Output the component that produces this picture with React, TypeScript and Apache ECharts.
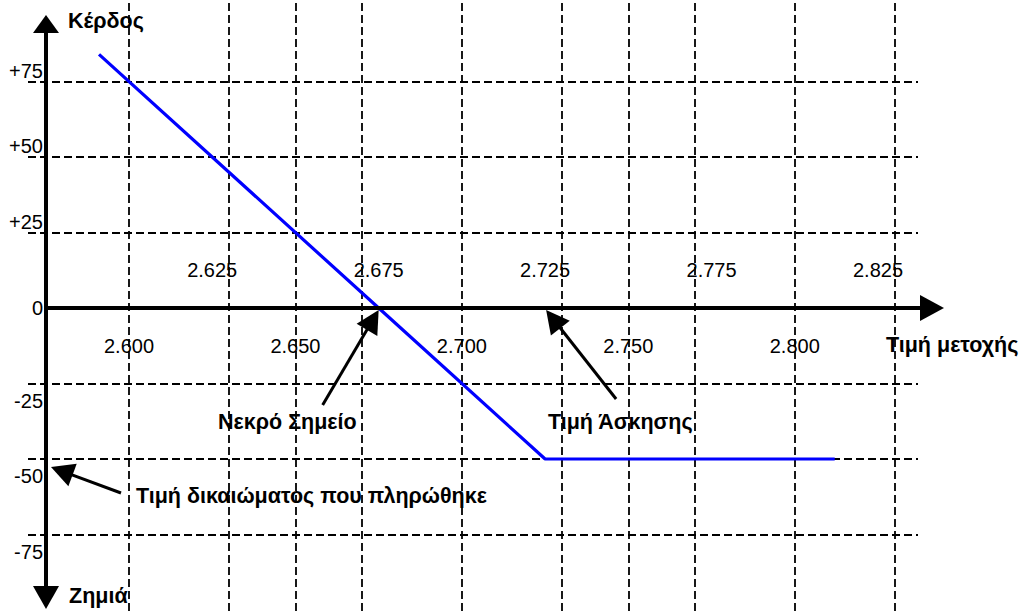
import React, { useEffect, useRef } from "react";
import * as echarts from "echarts";

// ---- data ----
const priceTicks = [2.6, 2.625, 2.65, 2.675, 2.7, 2.725, 2.75, 2.775, 2.8, 2.825];
const priceTickLabels = ["2.600", "2.625", "2.650", "2.675", "2.700", "2.725", "2.750", "2.775", "2.800", "2.825"];
const profitTicks = [75, 50, 25, 0, -25, -50, -75];
const profitTickLabels = ["+75", "+50", "+25", "0", "-25", "-50", "-75"];
const payoffPrices = [2.591, 2.675, 2.725, 2.812];
const payoffProfits = [84, 0, -50, -50];
const breakEvenPrice = 2.675;
const strikePrice = 2.725;
const premiumPaid = -50;
const yTitleTop = "Κέρδος";
const yTitleBottom = "Ζημιά";
const xTitle = "Τιμή μετοχής";
const breakEvenLabel = "Νεκρό Σημείο";
const strikeLabel = "Τιμή Άσκησης";
const premiumLabel = "Τιμή δικαιώματος που πληρώθηκε";

// ---- layout ----
const W = 1020;
const H = 611;
const X_MIN = 2.56125;
const X_MAX = 2.86766;
const Y_MIN = -100.33;
const Y_MAX = 101.99;
const PX_PER_X = W / (X_MAX - X_MIN);
const GRID_H_START_PX = 28;
const GRID_H_END_PX = 918;
const AXIS_X_PX = 46;
const FONT = "'Liberation Sans', Arial, Helvetica, sans-serif";
const FS = 20;
const FSB = 21.5;

function arrow(tail: number[], tip: number[], lw = 3, L = 23, hw = 12) {
  const dx = tip[0] - tail[0];
  const dy = tip[1] - tail[1];
  const len = Math.sqrt(dx * dx + dy * dy);
  const ux = dx / len;
  const uy = dy / len;
  const bx = tip[0] - ux * L;
  const by = tip[1] - uy * L;
  const nx = -uy;
  const ny = ux;
  return [
    {
      type: "line",
      shape: { x1: tail[0], y1: tail[1], x2: bx + ux * 2, y2: by + uy * 2 },
      style: { stroke: "#000", lineWidth: lw },
      z: 20,
    },
    {
      type: "polygon",
      shape: { points: [tip, [bx + nx * hw, by + ny * hw], [bx - nx * hw, by - ny * hw]] },
      style: { fill: "#000" },
      z: 20,
    },
  ];
}

export default function App() {
  const ref = useRef<HTMLDivElement>(null);
  useEffect(() => {
    if (!ref.current) return;
    const chart = echarts.init(ref.current, undefined, { renderer: "svg" });
    const xs = X_MIN + GRID_H_START_PX / PX_PER_X;
    const xe = X_MIN + GRID_H_END_PX / PX_PER_X;
    const gridData: any[] = [];
    priceTicks.forEach((v) => gridData.push({ xAxis: v }));
    profitTicks
      .filter((v) => v !== 0)
      .forEach((v) => gridData.push([{ coord: [xs, v] }, { coord: [xe, v] }]));
    const payoff = payoffPrices.map((p, i) => [p, payoffProfits[i]]);

    chart.setOption({
      animation: false,
      grid: { left: 0, right: 0, top: 0, bottom: 0 },
      xAxis: {
        type: "value",
        min: X_MIN,
        max: X_MAX,
        show: false,
        splitLine: { show: false },
      },
      yAxis: {
        type: "value",
        min: Y_MIN,
        max: Y_MAX,
        show: false,
        splitLine: { show: false },
      },
      series: [
        {
          type: "line",
          name: "grid",
          data: payoff,
          symbol: "none",
          lineStyle: { opacity: 0 },
          silent: true,
          z: 1,
          markLine: {
            silent: true,
            symbol: ["none", "none"],
            label: { show: false },
            lineStyle: { color: "#000", width: 1.8, type: [8, 4] },
            data: gridData,
          },
        },
        {
          type: "line",
          name: "payoff",
          data: payoff,
          symbol: "none",
          lineStyle: { color: "#0000ff", width: 3.2 },
          z: 10,
        },
      ],
    });

    const px = (x: number, y: number) => chart.convertToPixel({ gridIndex: 0 }, [x, y]) as number[];
    const y0 = px(X_MIN, 0)[1];
    const g: any[] = [];

    // axes with arrows
    g.push({ type: "line", shape: { x1: AXIS_X_PX, y1: 30, x2: AXIS_X_PX, y2: 590 }, style: { stroke: "#000", lineWidth: 4 }, z: 15 });
    g.push({ type: "polygon", shape: { points: [[AXIS_X_PX, 15], [AXIS_X_PX - 13, 33], [AXIS_X_PX + 13, 33]] }, style: { fill: "#000" }, z: 15 });
    g.push({ type: "polygon", shape: { points: [[AXIS_X_PX, 609], [AXIS_X_PX - 13, 586], [AXIS_X_PX + 13, 586]] }, style: { fill: "#000" }, z: 15 });
    g.push({ type: "line", shape: { x1: AXIS_X_PX, y1: y0, x2: 925, y2: y0 }, style: { stroke: "#000", lineWidth: 4 }, z: 15 });
    g.push({ type: "polygon", shape: { points: [[944, y0], [920, y0 - 13], [920, y0 + 13]] }, style: { fill: "#000" }, z: 15 });

    // x tick labels (alternating rows)
    priceTicks.forEach((v, i) => {
      const p = px(v, 0);
      g.push({
        type: "text",
        x: p[0],
        y: i % 2 === 0 ? y0 + 38 : y0 - 38,
        style: { text: priceTickLabels[i], font: `${FS}px ${FONT}`, fill: "#000", align: "center", verticalAlign: "middle" },
        z: 12,
      });
    });
    // y tick labels
    profitTicks.forEach((v, i) => {
      const p = px(X_MIN, v);
      const off = v > 0 ? -11 : v < 0 ? 17 : 0;
      g.push({
        type: "text",
        x: 43,
        y: p[1] + off,
        style: { text: profitTickLabels[i], font: `${FS}px ${FONT}`, fill: "#000", align: "right", verticalAlign: "middle" },
        z: 12,
      });
    });

    const bold = `bold ${FSB}px ${FONT}`;
    g.push({ type: "text", x: 68, y: 21, style: { text: yTitleTop, font: bold, fill: "#000", align: "left", verticalAlign: "middle" }, z: 12 });
    g.push({ type: "text", x: 69, y: 596, style: { text: yTitleBottom, font: bold, fill: "#000", align: "left", verticalAlign: "middle" }, z: 12 });
    g.push({ type: "text", x: 886, y: 345, style: { text: xTitle, font: bold, fill: "#000", align: "left", verticalAlign: "middle" }, z: 12 });

    // annotations
    const be = px(breakEvenPrice, 0);
    const beTip = [be[0], be[1] + 2];
    const beTail = [beTip[0] - 56, beTip[1] + 95];
    g.push(...arrow(beTail, beTip));
    g.push({ type: "text", x: 218, y: 422, style: { text: breakEvenLabel, font: bold, fill: "#000", align: "left", verticalAlign: "middle" }, z: 12 });

    const st = px(strikePrice, 0);
    const stTip = [st[0] + 1, st[1] + 2];
    const stTail = [stTip[0] + 70, stTip[1] + 89];
    g.push(...arrow(stTail, stTip));
    g.push({ type: "text", x: 548, y: 422, style: { text: strikeLabel, font: bold, fill: "#000", align: "left", verticalAlign: "middle" }, z: 12 });

    const pr = px(X_MIN, premiumPaid);
    const prTip = [AXIS_X_PX + 5, pr[1] + 8];
    const prTail = [prTip[0] + 70, prTip[1] + 26];
    g.push(...arrow(prTail, prTip));
    g.push({ type: "text", x: 136, y: 496, style: { text: premiumLabel, font: bold, fill: "#000", align: "left", verticalAlign: "middle" }, z: 12 });

    chart.setOption({ graphic: g });
    return () => chart.dispose();
  }, []);
  return <div ref={ref} style={{ position: "fixed", left: 0, top: 0, width: W, height: H, background: "#fff" }} />;
}
